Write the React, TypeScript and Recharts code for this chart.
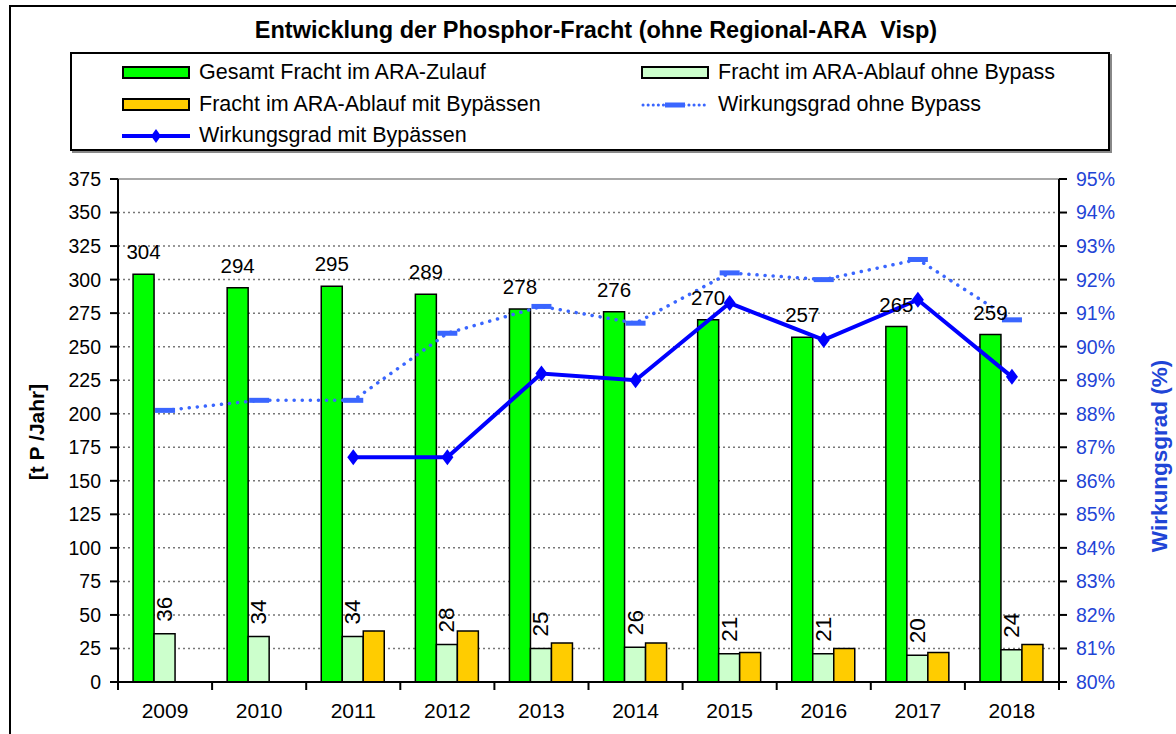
import React from "react";
import {
  ComposedChart,
  Bar,
  Line,
  XAxis,
  YAxis,
  CartesianGrid,
  LabelList,
  ReferenceLine,
} from "recharts";

const years = ["2009", "2010", "2011", "2012", "2013", "2014", "2015", "2016", "2017", "2018"];
const zulauf = [304, 294, 295, 289, 278, 276, 270, 257, 265, 259];
const ablaufOhne = [36, 34, 34, 28, 25, 26, 21, 21, 20, 24];
const ablaufMit = [null, null, 38, 38, 29, 29, 22, 25, 22, 28];
const wgOhne = [88.1, 88.4, 88.4, 90.4, 91.2, 90.7, 92.2, 92.0, 92.6, 90.8];
const wgMit = [null, null, 86.7, 86.7, 89.2, 89.0, 91.3, 90.2, 91.4, 89.1];

const leftTicks = [0, 25, 50, 75, 100, 125, 150, 175, 200, 225, 250, 275, 300, 325, 350, 375];
const rightTicks = [80, 81, 82, 83, 84, 85, 86, 87, 88, 89, 90, 91, 92, 93, 94, 95];

const data = years.map((year, i) => ({
  year,
  zulauf: zulauf[i],
  ablaufOhne: ablaufOhne[i],
  ablaufMit: ablaufMit[i],
  wgOhne: wgOhne[i],
  wgMit: wgMit[i],
}));

const W = 1176;
const H = 734;
const LEFT_W = 118;
const RIGHT_W = 117;
const TOP = 179;
const X_H = 52;
const PLOT_BOTTOM = H - X_H;
const BAND = (W - LEFT_W - RIGHT_W) / years.length;

const FONT = "'Liberation Sans', Arial, sans-serif";
const BLUE_AXIS = "#1f45d6";
const DOT_BLUE = "#3a66ff";

// x ticks sit between the categories, like the original
const XTick = (props: any) => {
  const { x, payload, index } = props;
  const left = x - BAND / 2;
  return (
    <g>
      <line x1={left} x2={left} y1={PLOT_BOTTOM} y2={PLOT_BOTTOM + 8} stroke="#000" strokeWidth={2} />
      {index === years.length - 1 && (
        <line x1={x + BAND / 2} x2={x + BAND / 2} y1={PLOT_BOTTOM} y2={PLOT_BOTTOM + 8} stroke="#000" strokeWidth={2} />
      )}
      <text x={x} y={718} textAnchor="middle" fontSize={21} fontFamily={FONT} fill="#000">
        {payload.value}
      </text>
    </g>
  );
};

const RotLabel = (props: any) => {
  const { x, y, width, value } = props;
  if (value == null) return null;
  const cx = x + width / 2;
  const ty = y - 12;
  return (
    <text
      x={cx}
      y={ty}
      transform={`rotate(-90 ${cx} ${ty})`}
      textAnchor="start"
      dominantBaseline="central"
      fontSize={22.5}
      fontFamily={FONT}
      fill="#000"
    >
      {value}
    </text>
  );
};

const DashDot = (props: any) => {
  const { cx, cy, value } = props;
  if (value == null || cx == null) return null;
  return <rect x={cx - 10} y={cy - 2.5} width={20} height={5} fill={DOT_BLUE} />;
};

const Diamond = (props: any) => {
  const { cx, cy, value } = props;
  if (value == null || cx == null) return null;
  return (
    <path d={`M${cx},${cy - 8} L${cx + 6},${cy} L${cx},${cy + 8} L${cx - 6},${cy} Z`} fill="#0000ff" />
  );
};

const legendText: React.CSSProperties = { fontSize: 21.5, fontFamily: FONT, color: "#000", whiteSpace: "nowrap" };

const BarSwatch = ({ color }: { color: string }) => (
  <div style={{ width: 64, height: 9, background: color, border: "2px solid #000", flex: "none" }} />
);

const LegendItem = ({ left, top, swatch, label }: { left: number; top: number; swatch: React.ReactNode; label: string }) => (
  <div style={{ position: "absolute", left, top, display: "flex", alignItems: "center", gap: 9 }}>
    {swatch}
    <span style={legendText}>{label}</span>
  </div>
);

export default function App() {
  return (
    <div style={{ position: "absolute", left: 0, top: 0, width: W, height: H, overflow: "hidden", background: "#fff", fontFamily: FONT }}>
      <div style={{ position: "absolute", left: 9, top: 5, width: 1200, height: 800, border: "2px solid #000" }} />
      <div style={{ position: "absolute", left: 0, top: 17, width: 1192, textAlign: "center", fontSize: 23.5, fontWeight: "bold" }}>
        Entwicklung der Phosphor-Fracht (ohne Regional-ARA&nbsp; Visp)
      </div>

      <div
        style={{
          position: "absolute",
          left: 70,
          top: 52,
          width: 1036,
          height: 95,
          border: "2px solid #000",
          boxShadow: "2px 2px 0 #888",
        }}
      >
        <LegendItem left={50} top={6} swatch={<BarSwatch color="#00ff00" />} label="Gesamt Fracht im ARA-Zulauf" />
        <LegendItem left={50} top={38} swatch={<BarSwatch color="#ffcc00" />} label="Fracht im ARA-Ablauf mit Bypässen" />
        <LegendItem
          left={50}
          top={69}
          swatch={
            <svg width={68} height={16}>
              <line x1={0} x2={68} y1={8} y2={8} stroke="#0000ff" strokeWidth={4} />
              <path d="M34,1 L39,8 L34,15 L29,8 Z" fill="#0000ff" />
            </svg>
          }
          label="Wirkungsgrad mit Bypässen"
        />
        <LegendItem left={569} top={6} swatch={<BarSwatch color="#ccffcc" />} label="Fracht im ARA-Ablauf ohne Bypass" />
        <LegendItem
          left={569}
          top={38}
          swatch={
            <svg width={68} height={16}>
              <line x1={2} x2={66} y1={8} y2={8} stroke={DOT_BLUE} strokeWidth={3} strokeDasharray="0.1 5" strokeLinecap="round" />
              <rect x={24} y={5.5} width={20} height={5} fill={DOT_BLUE} />
            </svg>
          }
          label="Wirkungsgrad ohne Bypass"
        />
      </div>

      <div
        style={{
          position: "absolute",
          left: 37,
          top: 432,
          transform: "translate(-50%, -50%) rotate(-90deg)",
          fontSize: 21,
          fontWeight: "bold",
          whiteSpace: "nowrap",
        }}
      >
        [t P /Jahr]
      </div>
      <div
        style={{
          position: "absolute",
          left: 1160,
          top: 456,
          transform: "translate(-50%, -50%) rotate(-90deg)",
          fontSize: 22.5,
          fontWeight: "bold",
          color: BLUE_AXIS,
          whiteSpace: "nowrap",
        }}
      >
        Wirkungsgrad (%)
      </div>

      <div style={{ position: "absolute", left: 0, top: 0 }}>
        <ComposedChart
          width={W}
          height={H}
          data={data}
          margin={{ top: TOP, right: 0, bottom: 0, left: 0 }}
          barGap={0}
          barCategoryGap="16%"
        >
          <CartesianGrid yAxisId="left" vertical={false} stroke="#777" strokeDasharray="2 3" strokeWidth={1.5} />
          <XAxis
            dataKey="year"
            height={X_H}
            tick={<XTick />}
            tickLine={false}
            axisLine={{ stroke: "#000", strokeWidth: 2 }}
            interval={0}
          />
          <YAxis
            yAxisId="left"
            width={LEFT_W}
            domain={[0, 375]}
            ticks={leftTicks}
            interval={0}
            tickSize={8}
            tickMargin={9}
            axisLine={{ stroke: "#000", strokeWidth: 2 }}
            tickLine={{ stroke: "#000", strokeWidth: 2 }}
            tick={{ fontSize: 19.5, fill: "#000", fontFamily: FONT }}
          />
          <YAxis
            yAxisId="right"
            orientation="right"
            width={RIGHT_W}
            domain={[80, 95]}
            ticks={rightTicks}
            interval={0}
            tickSize={8}
            tickMargin={9}
            tickFormatter={(v: number) => `${v}%`}
            axisLine={{ stroke: "#000", strokeWidth: 2 }}
            tickLine={{ stroke: "#000", strokeWidth: 2 }}
            tick={{ fontSize: 19.5, fill: BLUE_AXIS, fontFamily: FONT }}
          />
          <ReferenceLine yAxisId="left" y={375} stroke="#a8a8a8" strokeWidth={2} />

          <Bar yAxisId="left" dataKey="zulauf" fill="#00ff00" stroke="#000" strokeWidth={1.5} isAnimationActive={false}>
            <LabelList dataKey="zulauf" position="top" offset={15} fontSize={20.5} fill="#000" fontFamily={FONT} />
          </Bar>
          <Bar yAxisId="left" dataKey="ablaufOhne" fill="#ccffcc" stroke="#000" strokeWidth={1.5} isAnimationActive={false}>
            <LabelList dataKey="ablaufOhne" content={<RotLabel />} />
          </Bar>
          <Bar yAxisId="left" dataKey="ablaufMit" fill="#ffcc00" stroke="#000" strokeWidth={1.5} isAnimationActive={false} />

          <Line
            yAxisId="right"
            dataKey="wgOhne"
            stroke={DOT_BLUE}
            strokeWidth={3.5}
            strokeDasharray="0.1 8"
            strokeLinecap="round"
            dot={<DashDot />}
            activeDot={false}
            isAnimationActive={false}
          />
          <Line
            yAxisId="right"
            dataKey="wgMit"
            stroke="#0000ff"
            strokeWidth={4}
            dot={<Diamond />}
            activeDot={false}
            isAnimationActive={false}
          />
        </ComposedChart>
      </div>
    </div>
  );
}
